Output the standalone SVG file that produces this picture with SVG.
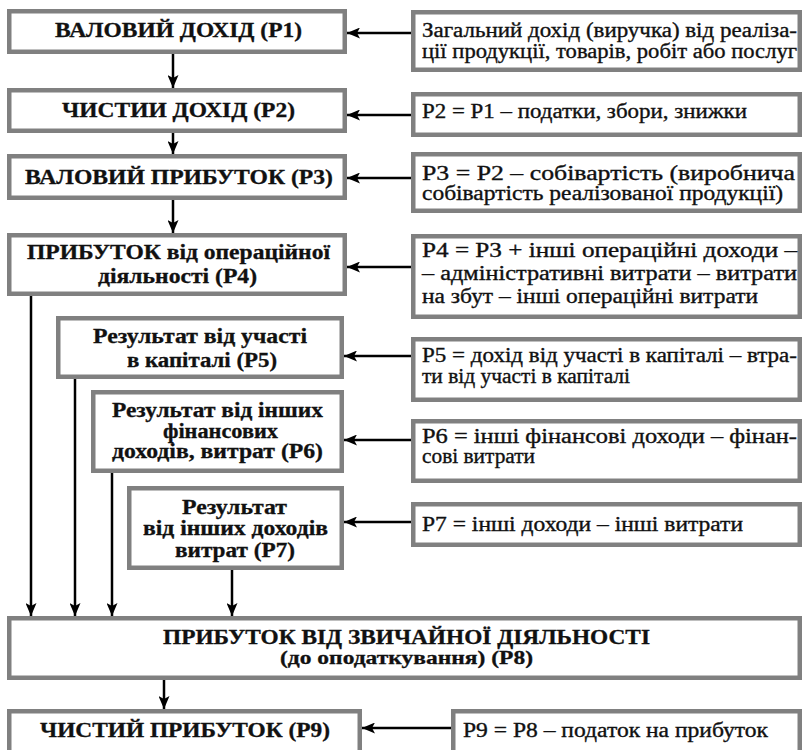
<svg xmlns="http://www.w3.org/2000/svg" width="803" height="750" viewBox="0 0 803 750">
<style>
.box{fill:#fff;stroke:#808080;stroke-width:4.5}
.lb{font-weight:bold;font-size:20px;fill:#111;stroke:#111;stroke-width:0.3}
.sm{font-size:18px}
.rt{font-size:20px;fill:#111;stroke:#111;stroke-width:0.35}
.con{fill:none;stroke:#000;stroke-width:2.5;marker-end:url(#ah)}
</style>
<defs>
<marker id="ah" markerUnits="userSpaceOnUse" markerWidth="13" markerHeight="11" refX="13" refY="5.5" orient="auto">
<path d="M0,0 L13,5.5 L0,11 L3,5.5 z" fill="#000"/>
</marker>
</defs>
<rect width="803" height="750" fill="#fff"/>
<g id="connectors">
<path class="con" d="M411,33 H347"/>
<path class="con" d="M411,115 H347"/>
<path class="con" d="M411,178 H347"/>
<path class="con" d="M411,267 H347"/>
<path class="con" d="M411,356 H344"/>
<path class="con" d="M411,440 H344"/>
<path class="con" d="M411,522 H344"/>
<path class="con" d="M451,728 H362"/>
<path class="con" d="M173,54 V88"/>
<path class="con" d="M173,133 V154"/>
<path class="con" d="M173,200 V233"/>
<path class="con" d="M31,296 V616"/>
<path class="con" d="M75,379 V616"/>
<path class="con" d="M112,473 V616"/>
<path class="con" d="M232,570 V616"/>
<path class="con" d="M164,680 V709"/>
</g>
<g id="p1">
<rect class="box" x="9.25" y="11.25" width="335.5" height="40.5"/>
<text class="lb" font-family="Liberation Serif, serif" x="55" y="37" textLength="247" lengthAdjust="spacingAndGlyphs">ВАЛОВИЙ ДОХІД (Р1)</text>
</g>
<g id="p2">
<rect class="box" x="9.25" y="90.25" width="335.5" height="40.5"/>
<text class="lb" font-family="Liberation Serif, serif" x="62" y="117" textLength="233" lengthAdjust="spacingAndGlyphs">ЧИСТИИ ДОХІД (Р2)</text>
</g>
<g id="p3">
<rect class="box" x="9.25" y="156.25" width="335.5" height="41.5"/>
<text class="lb" font-family="Liberation Serif, serif" x="25" y="184" textLength="308" lengthAdjust="spacingAndGlyphs">ВАЛОВИЙ ПРИБУТОК (Р3)</text>
</g>
<g id="p4">
<rect class="box" x="9.25" y="235.25" width="335.5" height="58.5"/>
<text class="lb" font-family="Liberation Serif, serif" x="27" y="259" textLength="303" lengthAdjust="spacingAndGlyphs">ПРИБУТОК від операційної</text>
<text class="lb" font-family="Liberation Serif, serif" x="98" y="283" textLength="159" lengthAdjust="spacingAndGlyphs">діяльності (Р4)</text>
</g>
<g id="p5">
<rect class="box" x="58.25" y="318.25" width="283.5" height="58.5"/>
<text class="lb" font-family="Liberation Serif, serif" x="93" y="343" textLength="214" lengthAdjust="spacingAndGlyphs">Результат від участі</text>
<text class="lb" font-family="Liberation Serif, serif" x="127" y="367" textLength="150" lengthAdjust="spacingAndGlyphs">в капіталі (Р5)</text>
</g>
<g id="p6">
<rect class="box" x="93.25" y="392.25" width="248.5" height="78.5"/>
<text class="lb" font-family="Liberation Serif, serif" x="112" y="417" textLength="211" lengthAdjust="spacingAndGlyphs">Результат від інших</text>
<text class="lb" font-family="Liberation Serif, serif" x="163" y="438" textLength="115" lengthAdjust="spacingAndGlyphs">фінансових</text>
<text class="lb" font-family="Liberation Serif, serif" x="112" y="458" textLength="211" lengthAdjust="spacingAndGlyphs">доходів, витрат (Р6)</text>
</g>
<g id="p7">
<rect class="box" x="129.25" y="488.25" width="212.5" height="79.5"/>
<text class="lb" font-family="Liberation Serif, serif" x="182" y="514" textLength="105" lengthAdjust="spacingAndGlyphs">Результат</text>
<text class="lb" font-family="Liberation Serif, serif" x="143" y="535" textLength="185" lengthAdjust="spacingAndGlyphs">від інших доходів</text>
<text class="lb" font-family="Liberation Serif, serif" x="175" y="557" textLength="120" lengthAdjust="spacingAndGlyphs">витрат (Р7)</text>
</g>
<g id="p8">
<rect class="box" x="9.25" y="618.25" width="790.5" height="59.5"/>
<text class="lb" font-family="Liberation Serif, serif" x="163" y="644" textLength="487" lengthAdjust="spacingAndGlyphs">ПРИБУТОК ВІД ЗВИЧАЙНОЇ ДІЯЛЬНОСТІ</text>
<text class="lb sm" font-family="Liberation Serif, serif" x="280" y="664" textLength="253" lengthAdjust="spacingAndGlyphs">(до оподаткування) (Р8)</text>
</g>
<g id="p9">
<rect class="box" x="9.25" y="711.25" width="350.5" height="45"/>
<text class="lb" font-family="Liberation Serif, serif" x="40" y="737" textLength="290" lengthAdjust="spacingAndGlyphs">ЧИСТИЙ ПРИБУТОК (Р9)</text>
</g>
<g id="r1">
<rect class="box" x="413.25" y="12.25" width="386.5" height="57.5"/>
<text class="rt" font-family="Liberation Serif, serif" x="422" y="37" textLength="375" lengthAdjust="spacingAndGlyphs">Загальний дохід (виручка) від реаліза-</text>
<text class="rt" font-family="Liberation Serif, serif" x="422" y="58" textLength="375" lengthAdjust="spacingAndGlyphs">ції продукції, товарів, робіт або послуг</text>
</g>
<g id="r2">
<rect class="box" x="413.25" y="94.25" width="386.5" height="40.5"/>
<text class="rt" font-family="Liberation Serif, serif" x="422" y="118" textLength="325" lengthAdjust="spacingAndGlyphs">Р2 = Р1 – податки, збори, знижки</text>
</g>
<g id="r3">
<rect class="box" x="413.25" y="154.25" width="386.5" height="56.5"/>
<text class="rt" font-family="Liberation Serif, serif" x="422" y="180" textLength="373" lengthAdjust="spacingAndGlyphs">Р3 = Р2 – собівартість (виробнича</text>
<text class="rt" font-family="Liberation Serif, serif" x="422" y="200" textLength="361" lengthAdjust="spacingAndGlyphs">собівартість реалізованої продукції)</text>
</g>
<g id="r4">
<rect class="box" x="413.25" y="236.25" width="386.5" height="80.5"/>
<text class="rt" font-family="Liberation Serif, serif" x="422" y="257" textLength="375" lengthAdjust="spacingAndGlyphs">Р4 = Р3 + інші операційні доходи –</text>
<text class="rt" font-family="Liberation Serif, serif" x="422" y="280" textLength="375" lengthAdjust="spacingAndGlyphs">– адміністративні витрати – витрати</text>
<text class="rt" font-family="Liberation Serif, serif" x="422" y="303" textLength="336" lengthAdjust="spacingAndGlyphs">на збут – інші операційні витрати</text>
</g>
<g id="r5">
<rect class="box" x="413.25" y="339.25" width="386.5" height="60.5"/>
<text class="rt" font-family="Liberation Serif, serif" x="422" y="362" textLength="375" lengthAdjust="spacingAndGlyphs">Р5 = дохід від участі в капіталі – втра-</text>
<text class="rt" font-family="Liberation Serif, serif" x="422" y="383" textLength="208" lengthAdjust="spacingAndGlyphs">ти від участі в капіталі</text>
</g>
<g id="r6">
<rect class="box" x="413.25" y="421.25" width="386.5" height="59.5"/>
<text class="rt" font-family="Liberation Serif, serif" x="422" y="443" textLength="375" lengthAdjust="spacingAndGlyphs">Р6 = інші фінансові доходи – фінан-</text>
<text class="rt" font-family="Liberation Serif, serif" x="422" y="463" textLength="113" lengthAdjust="spacingAndGlyphs">сові витрати</text>
</g>
<g id="r7">
<rect class="box" x="413.25" y="504.25" width="386.5" height="40.5"/>
<text class="rt" font-family="Liberation Serif, serif" x="422" y="531" textLength="321" lengthAdjust="spacingAndGlyphs">Р7 = інші доходи – інші витрати</text>
</g>
<g id="r9">
<rect class="box" x="453.25" y="711.25" width="346.5" height="45"/>
<text class="rt" font-family="Liberation Serif, serif" x="463" y="737" textLength="305" lengthAdjust="spacingAndGlyphs">Р9 = Р8 – податок на прибуток</text>
</g>
</svg>
